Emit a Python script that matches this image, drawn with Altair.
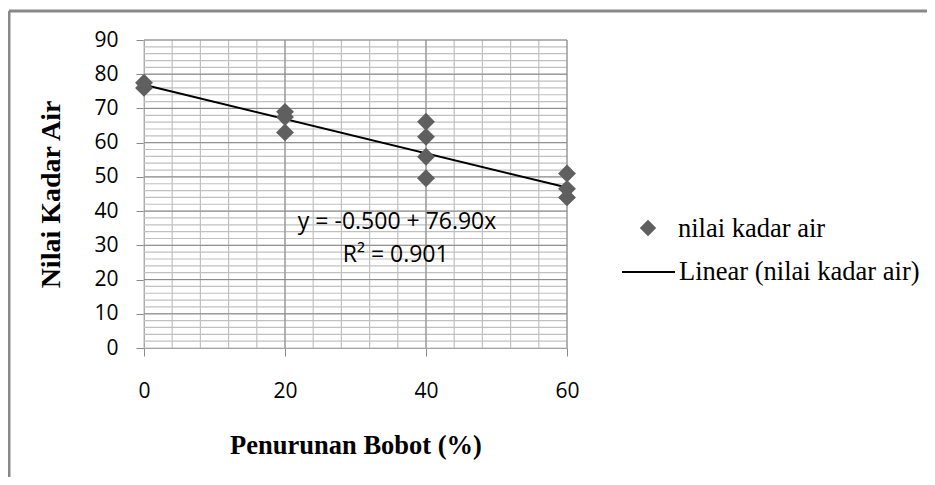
import altair as alt
import pandas as pd

# ---- data ----
penurunan = [0, 0, 20, 20, 20, 40, 40, 40, 40, 60, 60, 60]
kadar_air = [77.5, 76.0, 69.0, 67.5, 63.0, 66.1, 61.7, 55.9, 49.6, 51.0, 46.5, 44.0]

trend_intercept = 76.90
trend_slope = -0.500
trend_x = [0, 60]

x_ticks = [0, 20, 40, 60]
y_ticks = list(range(0, 91, 10))
x_minor = list(range(0, 61, 4))
y_minor = list(range(0, 91, 2))
x_major = [20, 40, 60]
y_major = list(range(10, 91, 10))

eq_text = "y = -0.500 + 76.90x"
r2_text = "R² = 0.901"
series_name = "nilai kadar air"
trend_name = "Linear (nilai kadar air)"
x_title = "Penurunan Bobot (%)"
y_title = "Nilai Kadar Air"

# ---- tables ----
pts = pd.DataFrame({"x": penurunan, "y": kadar_air})
trend = pd.DataFrame({"x": trend_x, "y": [trend_intercept + trend_slope * v for v in trend_x]})
notes = pd.DataFrame({"x": [35.9, 35.7], "y": [36.8, 27.2], "t": [eq_text, r2_text]})
one = pd.DataFrame({"d": [0]})

xs = alt.Scale(domain=[0, 60], nice=False, zero=False)
ys = alt.Scale(domain=[0, 90], nice=False)

GRAY_MINOR = "#c0c0c0"
GRAY_MAJOR = "#8a8a8a"
SANS = "Open Sans"
SERIF = "Liberation Serif"

x_axis = alt.Axis(values=x_ticks, title=x_title, grid=False, labelFlush=False,
                  domainColor=GRAY_MAJOR, tickColor=GRAY_MAJOR, tickSize=8,
                  labelFont=SANS, labelFontSize=21, labelColor="black", labelPadding=24,
                  titleFont=SERIF, titleFontSize=26.5, titleFontWeight="bold",
                  titleColor="black", titlePadding=31)
y_axis = alt.Axis(values=y_ticks, title=y_title, grid=False, labelFlush=False,
                  domainColor=GRAY_MAJOR, tickColor=GRAY_MAJOR, tickSize=8,
                  labelFont=SANS, labelFontSize=21, labelColor="black", labelPadding=18,
                  titleFont=SERIF, titleFontSize=28, titleFontWeight="bold",
                  titleColor="black", titlePadding=28)

X = lambda f: alt.X(f, scale=xs, axis=x_axis)
Y = lambda f: alt.Y(f, scale=ys, axis=y_axis)

vminor = alt.Chart(pd.DataFrame({"x": x_minor})).mark_rule(color=GRAY_MINOR, strokeWidth=1.2).encode(
    x=X("x:Q"))
hminor = alt.Chart(pd.DataFrame({"y": y_minor})).mark_rule(color=GRAY_MINOR, strokeWidth=1.2).encode(
    y=Y("y:Q"))
vmajor = alt.Chart(pd.DataFrame({"x": x_major})).mark_rule(color=GRAY_MAJOR, strokeWidth=1).encode(
    x=X("x:Q"))
hmajor = alt.Chart(pd.DataFrame({"y": y_major})).mark_rule(color=GRAY_MAJOR, strokeWidth=1).encode(
    y=Y("y:Q"))

points = alt.Chart(pts).mark_point(shape="diamond", filled=True, size=320,
                                   color="#5f5f5f", opacity=1).encode(
    x=X("x:Q"), y=Y("y:Q"))

line = alt.Chart(trend).mark_line(color="black", strokeWidth=2).encode(
    x=X("x:Q"), y=Y("y:Q"))

labels = alt.Chart(notes).mark_text(font=SANS, fontSize=23, color="black",
                                    align="center", baseline="middle").encode(
    x=X("x:Q"), y=Y("y:Q"), text="t:N")

# ---- legend (drawn by hand, outside the plot area) ----
leg_sym = alt.Chart(one).mark_point(shape="diamond", filled=True, size=270,
                                    color="#5f5f5f", opacity=1).encode(
    x=alt.value(504), y=alt.value(188))
leg_t1 = alt.Chart(one).mark_text(text=series_name, font=SERIF, fontSize=26.5,
                                  align="left", baseline="alphabetic", color="black").encode(
    x=alt.value(534), y=alt.value(197))
leg_line = alt.Chart(one).mark_rule(color="black", strokeWidth=2).encode(
    x=alt.value(478), x2=alt.value(531), y=alt.value(232))
leg_t2 = alt.Chart(one).mark_text(text=trend_name, font=SERIF, fontSize=26.5,
                                  align="left", baseline="alphabetic", color="black").encode(
    x=alt.value(535), y=alt.value(240))

# ---- outer chart-area border ----
border_l = alt.Chart(one).mark_rule(color="#898989", strokeWidth=3).encode(
    x=alt.value(-135), y=alt.value(-29), y2=alt.value(445))
border_t = alt.Chart(one).mark_rule(color="#898989", strokeWidth=3).encode(
    x=alt.value(-135), x2=alt.value(791), y=alt.value(-29))

chart = alt.layer(
    vminor, hminor, vmajor, hmajor, line, points, labels,
    leg_sym, leg_t1, leg_line, leg_t2, border_l, border_t
).properties(
    width=423, height=308,
    autosize=alt.AutoSizeParams(type="none"),
    padding={"left": 136, "top": 32, "right": 360, "bottom": 129},
    background="white",
).configure_view(stroke=None)

chart.save("out.html", embed_options={"renderer": "svg", "actions": False})
